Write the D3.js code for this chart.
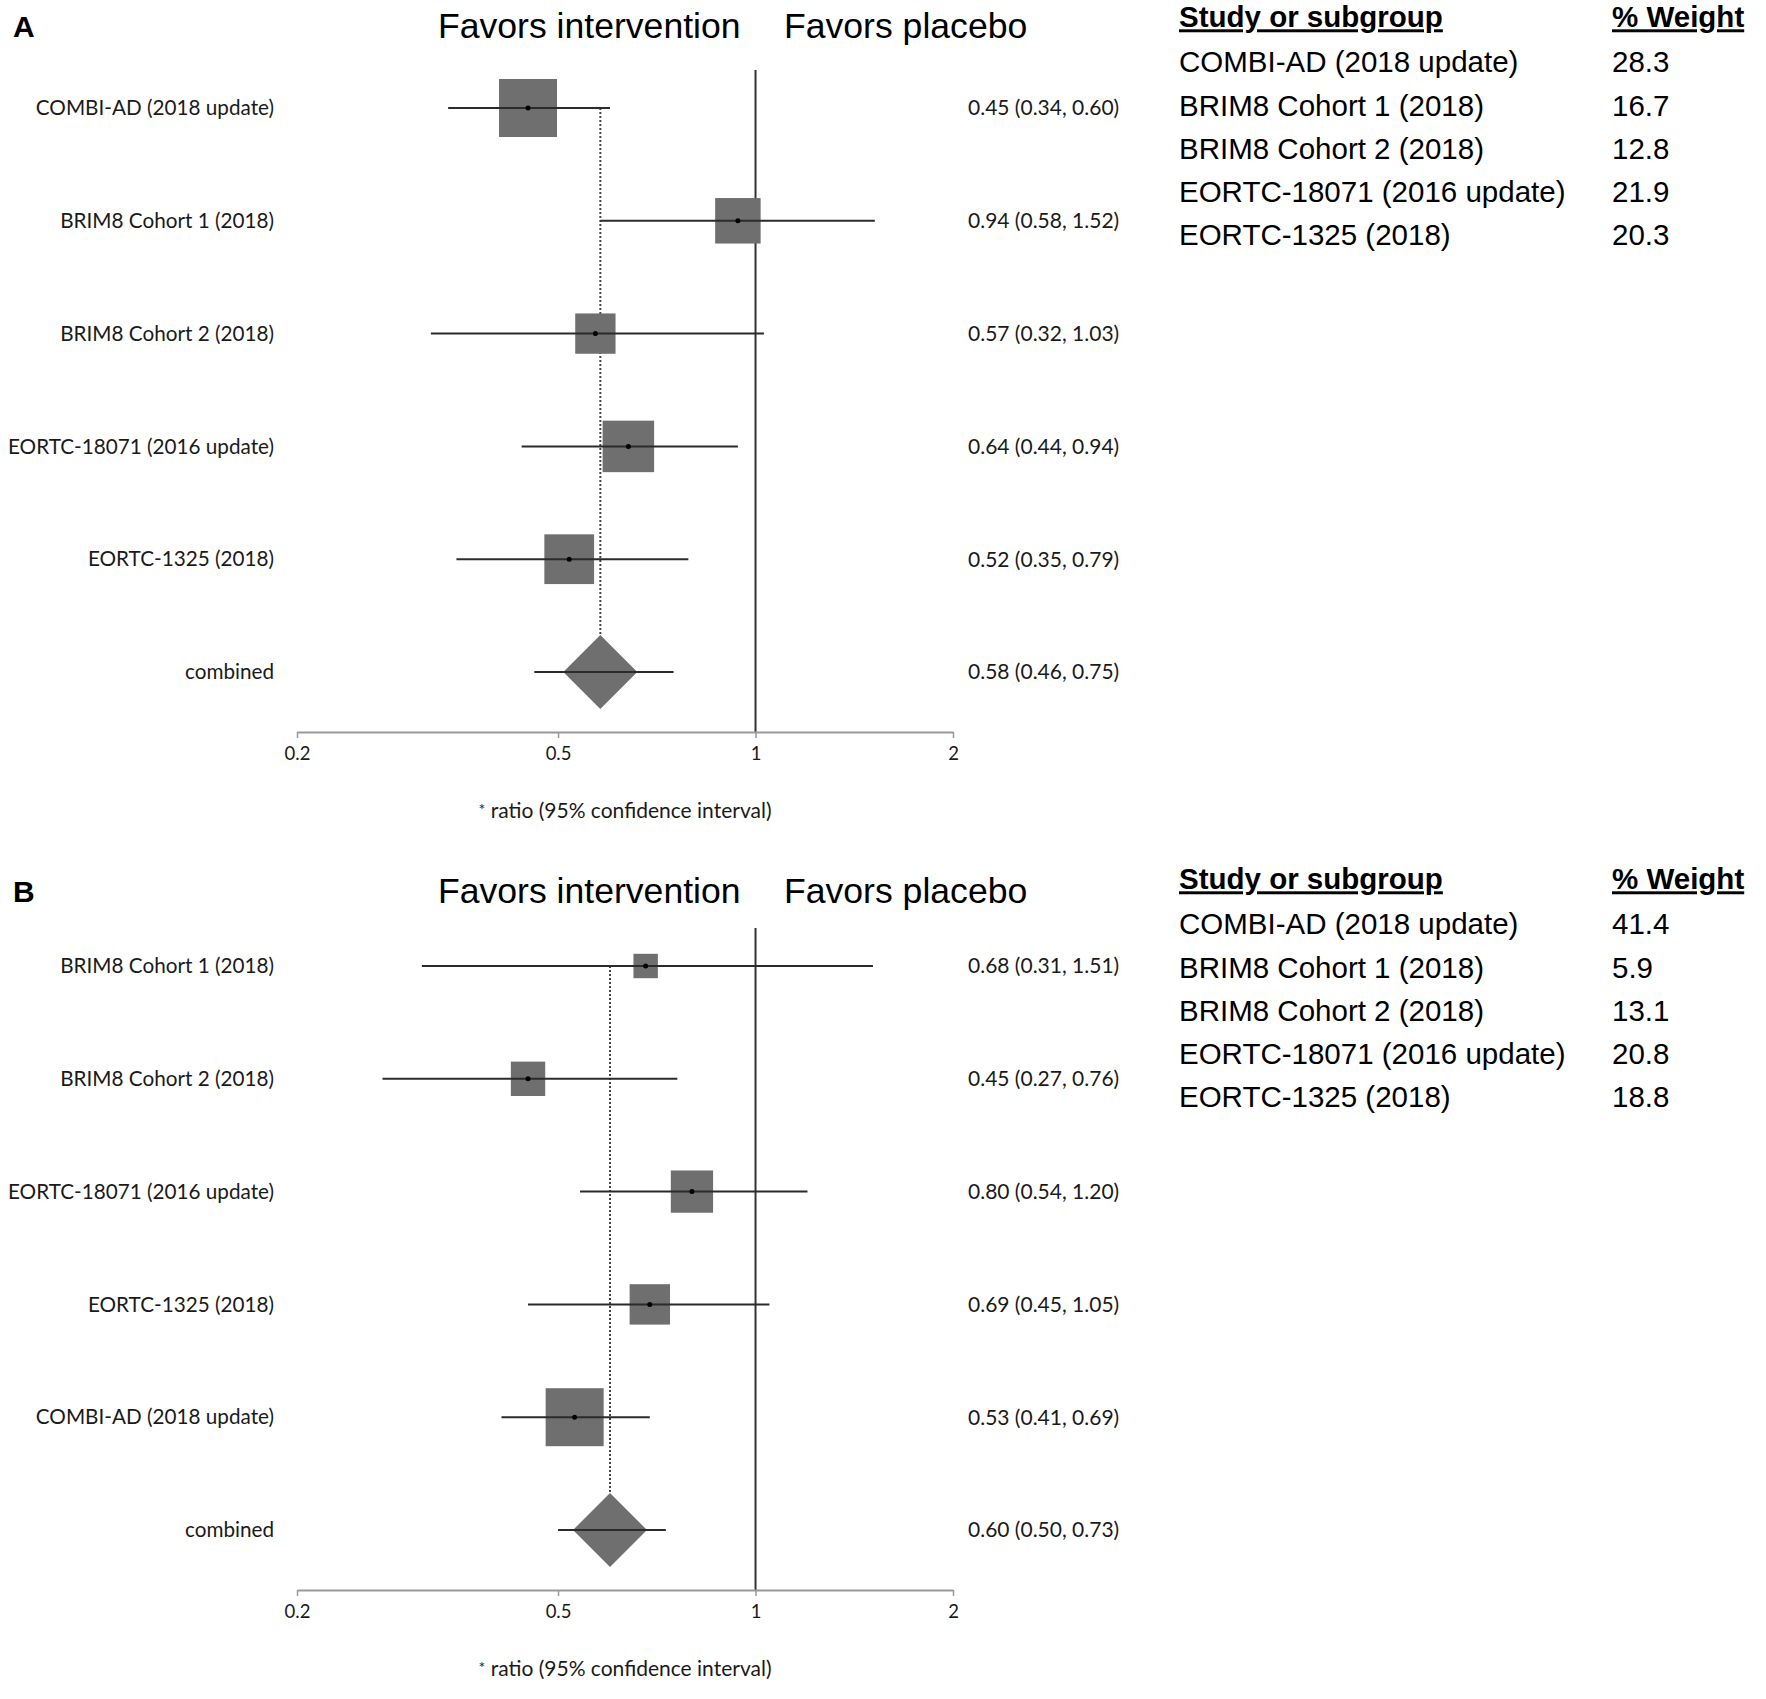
<!DOCTYPE html>
<html>
<head>
<meta charset="utf-8">
<script src="https://cdn.jsdelivr.net/npm/d3@7"></script>
<style>
  body { margin: 0; background: #fff; }
</style>
</head>
<body>
<div id="chart"></div>
<script>
// Panel A rows, top to bottom
const studiesA = ["COMBI-AD (2018 update)", "BRIM8 Cohort 1 (2018)", "BRIM8 Cohort 2 (2018)", "EORTC-18071 (2016 update)", "EORTC-1325 (2018)"];
const estA = [0.45, 0.94, 0.57, 0.64, 0.52];
const lowA = [0.34, 0.58, 0.32, 0.44, 0.35];
const highA = [0.60, 1.52, 1.03, 0.94, 0.79];
const combinedA = [0.58, 0.46, 0.75];
const tableStudiesA = ["COMBI-AD (2018 update)", "BRIM8 Cohort 1 (2018)", "BRIM8 Cohort 2 (2018)", "EORTC-18071 (2016 update)", "EORTC-1325 (2018)"];
const weightsA = [28.3, 16.7, 12.8, 21.9, 20.3];

// Panel B rows, top to bottom
const studiesB = ["BRIM8 Cohort 1 (2018)", "BRIM8 Cohort 2 (2018)", "EORTC-18071 (2016 update)", "EORTC-1325 (2018)", "COMBI-AD (2018 update)"];
const estB = [0.68, 0.45, 0.80, 0.69, 0.53];
const lowB = [0.31, 0.27, 0.54, 0.45, 0.41];
const highB = [1.51, 0.76, 1.20, 1.05, 0.69];
const combinedB = [0.60, 0.50, 0.73];
const tableStudiesB = ["COMBI-AD (2018 update)", "BRIM8 Cohort 1 (2018)", "BRIM8 Cohort 2 (2018)", "EORTC-18071 (2016 update)", "EORTC-1325 (2018)"];
const weightsB = [41.4, 5.9, 13.1, 20.8, 18.8];

const tickValues = [0.2, 0.5, 1, 2];
const tickLabels = ["0.2", "0.5", "1", "2"];

document.addEventListener("DOMContentLoaded", () => {
    const svgWidth = 1766;
    const svgHeight = 1699;

    const svg = d3.select("#chart")
        .append("svg")
        .attr("width", svgWidth)
        .attr("height", svgHeight)
        .style("background", "#fff");

    const labelFont = "Lato, 'Open Sans', sans-serif";
    const arial = "'Liberation Sans', Arial, sans-serif";
    const fmt = d3.format(".2f");

    // Shared log scale for ratios
    const x = d3.scaleLog()
        .domain([0.2, 2])
        .range([297, 953]);

    function drawPanel(p) {
        const g = svg.append("g").attr("transform", `translate(0,${p.plotTop})`);
        const gh = svg.append("g").attr("transform", `translate(0,${p.headTop})`);
        const gt = svg.append("g").attr("transform", `translate(0,${p.tableTop})`);

        const rows = p.studies.map((name, i) => ({
            name, est: p.est[i], lo: p.low[i], hi: p.high[i],
            w: p.tableWeights[p.tableStudies.indexOf(name)]
        }));
        const comb = { name: "combined", est: p.combined[0], lo: p.combined[1], hi: p.combined[2] };
        const allRows = rows.concat([comb]);

        const y = d3.scalePoint()
            .domain(allRows.map(d => d.name))
            .range([108, 672]);

        // box side grows with the square root of the weight
        const boxSize = d3.scaleSqrt()
            .domain([0, d3.max(p.tableWeights)])
            .range([4, 58]);

        const axisY = 732;
        const diamondHalf = 37;

        // panel letter
        gh.append("text")
            .attr("x", 13).attr("y", 37)
            .attr("font-family", arial).attr("font-weight", "bold")
            .attr("font-size", 30)
            .text(p.letter);

        // favors headings
        gh.append("text")
            .attr("x", 438).attr("y", 38)
            .attr("font-family", arial).attr("font-size", 35.6)
            .text("Favors intervention");
        gh.append("text")
            .attr("x", 784).attr("y", 38)
            .attr("font-family", arial).attr("font-size", 35.6)
            .text("Favors placebo");

        // reference line at 1
        g.append("line")
            .attr("x1", x(1)).attr("x2", x(1))
            .attr("y1", 70).attr("y2", axisY)
            .attr("stroke", "#333").attr("stroke-width", 2);

        // dotted line at combined estimate
        g.append("line")
            .attr("x1", x(comb.est)).attr("x2", x(comb.est))
            .attr("y1", y(rows[0].name)).attr("y2", y("combined") - diamondHalf)
            .attr("stroke", "#444").attr("stroke-width", 2)
            .attr("stroke-dasharray", "2,2");

        // boxes
        g.selectAll(".box")
            .data(rows)
            .enter()
            .append("rect")
            .attr("class", "box")
            .attr("x", d => x(d.est) - boxSize(d.w) / 2)
            .attr("y", d => y(d.name) - boxSize(d.w) / 2)
            .attr("width", d => boxSize(d.w))
            .attr("height", d => boxSize(d.w))
            .attr("fill", "#6f6f6f");

        // diamond
        g.append("path")
            .attr("d", `M${x(comb.est)},${y("combined") - diamondHalf}` +
                `L${x(comb.est) + diamondHalf},${y("combined")}` +
                `L${x(comb.est)},${y("combined") + diamondHalf}` +
                `L${x(comb.est) - diamondHalf},${y("combined")}Z`)
            .attr("fill", "#6f6f6f");

        // whiskers
        g.selectAll(".ci")
            .data(allRows)
            .enter()
            .append("line")
            .attr("class", "ci")
            .attr("x1", d => x(d.lo)).attr("x2", d => x(d.hi))
            .attr("y1", d => y(d.name)).attr("y2", d => y(d.name))
            .attr("stroke", "#2b2b2b").attr("stroke-width", 2);

        // centre dots
        g.selectAll(".dot")
            .data(rows)
            .enter()
            .append("circle")
            .attr("class", "dot")
            .attr("cx", d => x(d.est)).attr("cy", d => y(d.name))
            .attr("r", 2.5).attr("fill", "#000");

        // study labels
        g.selectAll(".lbl")
            .data(allRows)
            .enter()
            .append("text")
            .attr("class", "lbl")
            .attr("x", 274).attr("y", d => y(d.name))
            .attr("dy", "0.35em")
            .attr("text-anchor", "end")
            .attr("font-family", labelFont).attr("font-size", 20.7)
            .attr("fill", "#1a1a1a")
            .text(d => d.name);

        // estimate text
        g.selectAll(".est")
            .data(allRows)
            .enter()
            .append("text")
            .attr("class", "est")
            .attr("x", 968).attr("y", d => y(d.name))
            .attr("dy", "0.35em")
            .attr("font-family", labelFont).attr("font-size", 21)
            .attr("fill", "#1a1a1a")
            .text(d => `${fmt(d.est)} (${fmt(d.lo)}, ${fmt(d.hi)})`);

        // x axis
        const axis = g.append("g")
            .attr("transform", `translate(0,${axisY})`)
            .call(d3.axisBottom(x)
                .tickValues(tickValues)
                .tickFormat((d, i) => tickLabels[i])
                .tickSizeInner(6).tickSizeOuter(0).tickPadding(9));
        axis.select(".domain").attr("stroke", "#999").attr("stroke-width", 2);
        axis.selectAll(".tick line").attr("stroke", "#999").attr("stroke-width", 1.5);
        axis.selectAll(".tick text")
            .attr("font-family", labelFont).attr("font-size", 18.5)
            .attr("fill", "#1a1a1a");

        // footnote
        const note = g.append("text")
            .attr("x", 625).attr("y", 817)
            .attr("dy", "0.35em")
            .attr("text-anchor", "middle")
            .attr("font-family", labelFont).attr("font-size", 21)
            .attr("fill", "#1a1a1a");
        note.append("tspan").attr("font-size", 16).attr("dy", "-0.1em").text("*");
        note.append("tspan").attr("dy", "0.1em").text(" ratio (95% confidence interval)");

        // weight table
        const ty = d3.scalePoint()
            .domain(p.tableStudies)
            .range([62, 235]);

        gt.append("text")
            .attr("x", 1179).attr("y", 17).attr("dy", "0.35em")
            .attr("font-family", arial).attr("font-size", 29.5).attr("font-weight", "bold")
            .attr("text-decoration", "underline")
            .text("Study or subgroup");
        gt.append("text")
            .attr("x", 1612).attr("y", 17).attr("dy", "0.35em")
            .attr("font-family", arial).attr("font-size", 29.5).attr("font-weight", "bold")
            .attr("text-decoration", "underline")
            .text("% Weight");

        gt.selectAll(".tname")
            .data(p.tableStudies)
            .enter()
            .append("text")
            .attr("class", "tname")
            .attr("x", 1179).attr("y", d => ty(d)).attr("dy", "0.35em")
            .attr("font-family", arial).attr("font-size", 29.5)
            .text(d => d);

        gt.selectAll(".tw")
            .data(p.tableWeights)
            .enter()
            .append("text")
            .attr("class", "tw")
            .attr("x", 1612).attr("y", (d, i) => ty(p.tableStudies[i])).attr("dy", "0.35em")
            .attr("font-family", arial).attr("font-size", 29.5)
            .text(d => d.toFixed(1));
    }

    drawPanel({
        letter: "A", plotTop: 0, headTop: 0, tableTop: 0,
        studies: studiesA, est: estA, low: lowA, high: highA, combined: combinedA,
        tableStudies: tableStudiesA, tableWeights: weightsA
    });

    drawPanel({
        letter: "B", plotTop: 858, headTop: 865, tableTop: 862,
        studies: studiesB, est: estB, low: lowB, high: highB, combined: combinedB,
        tableStudies: tableStudiesB, tableWeights: weightsB
    });
});
</script>
</body>
</html>
